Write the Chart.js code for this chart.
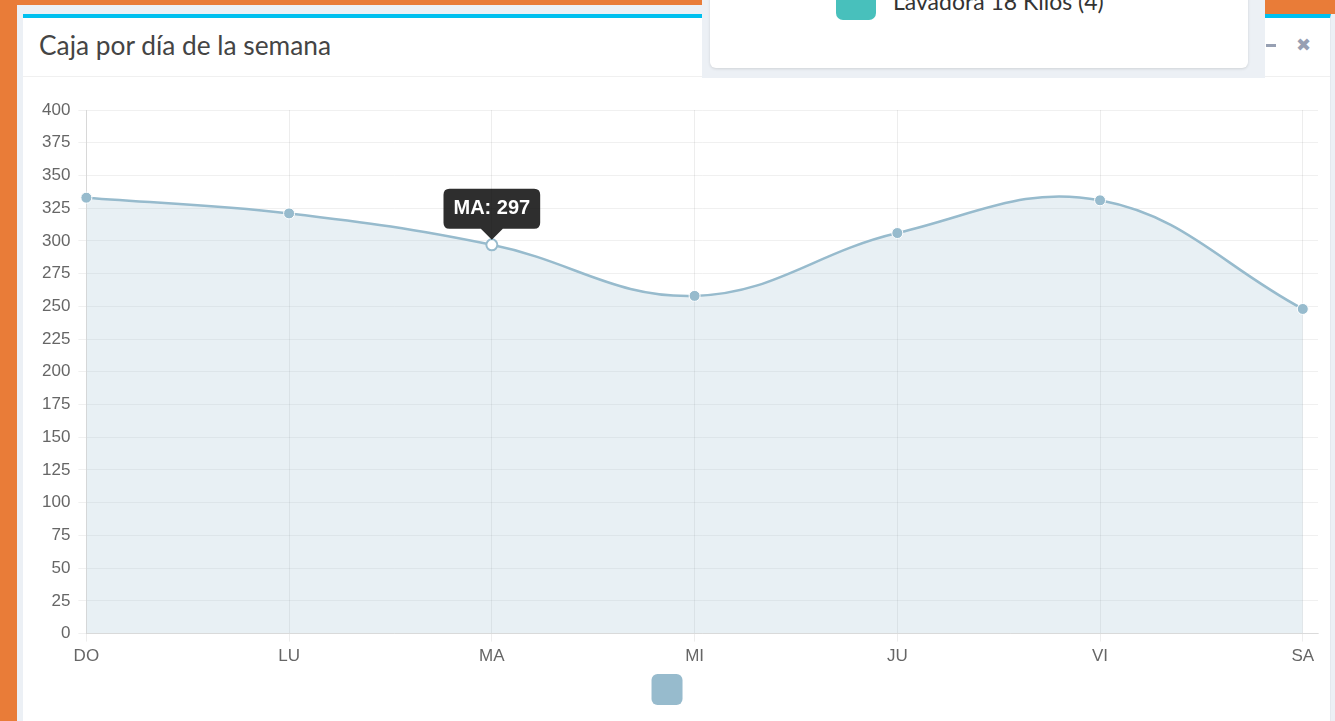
<!DOCTYPE html>
<html>
<head>
<meta charset="utf-8">
<script src="https://cdn.jsdelivr.net/npm/chart.js@4/dist/chart.umd.min.js"></script>
<style>
  html, body { margin: 0; padding: 0; width: 1335px; height: 721px; overflow: hidden; background: #e97c38; font-family: Lato, "Open Sans", sans-serif; }
  #wrap { position: absolute; left: 17px; top: 5px; right: 0; bottom: 0; background: #ecf0f5; }
  #topright { position: absolute; left: 1265px; top: 0; width: 70px; height: 14px; background: #e97c38; }
  #box { position: absolute; left: 23px; top: 14px; width: 1308px; height: 720px; background: #fff; border-top: 4px solid #00c0ef; box-sizing: border-box; border-right: 1px solid #e4e8ee; }
  #title { position: absolute; left: 16px; top: 11px; font-size: 26.3px; color: #444; font-family: Lato, sans-serif; }
  #hdrline { position: absolute; left: 0; right: 0; top: 58px; height: 1px; background: #f0f0f0; }
  #tools { position: absolute; top: 18px; left: 1238px; color: #97a0b3; font-family: "DejaVu Sans", sans-serif; font-weight: bold; font-size: 16px; }
  #minus { position: absolute; left: 5px; width: 10px; height: 3px; background: #97a0b3; top: 8px; }
  #times { position: absolute; left: 35px; top: -2px; font-size: 18px; }
  #dd { position: absolute; left: 702px; top: 0; width: 563px; height: 78px; background: #ecf0f5; }
  #card { position: absolute; left: 8px; top: -10px; width: 538px; height: 78px; background: #fff; border-radius: 6px; box-shadow: 0 1px 3px rgba(0,0,0,0.12); }
  #swatch { position: absolute; left: 126px; top: -10px; width: 40px; height: 40px; background: #48c0bc; border-radius: 7px; }
  #ddtext { position: absolute; left: 183px; top: -3px; font-size: 23px; color: #333; font-family: Lato, sans-serif; white-space: nowrap; }
  #chartbox { position: absolute; left: 23px; top: 78px; width: 1308px; height: 637px; }
</style>
</head>
<body>
<div id="wrap"></div>
<div id="topright"></div>
<div id="box">
  <div id="title">Caja por día de la semana</div>
  <div id="hdrline"></div>
  <div id="tools"><div id="minus"></div><div id="times">✖</div></div>
</div>
<div id="chartbox"><canvas id="c"></canvas></div>
<div id="dd"><div id="card"><div id="swatch"></div><div id="ddtext">Lavadora 18 Kilos (4)</div></div></div>
<script>
const days = ['DO', 'LU', 'MA', 'MI', 'JU', 'VI', 'SA'];
const caja = [333, 321, 297, 258, 306, 331, 248];
const yTicksMax = 400;
const yStep = 25;
const activeIndex = 2;

const lineColor = '#97bbcd';
const tickFont = { family: '"Liberation Sans", Arial, Helvetica, sans-serif', size: 17 };

const chart = new Chart(document.getElementById('c'), {
  type: 'line',
  data: {
    datasets: [{
      label: '',
      data: caja.map((v, i) => ({ x: i, y: v })),
      borderColor: lineColor,
      backgroundColor: 'rgba(151,187,205,0.22)',
      borderWidth: 2.5,
      fill: true,
      tension: 0.4,
      clip: false,
      pointRadius: 5.5,
      pointBackgroundColor: lineColor,
      pointBorderColor: '#fff',
      pointBorderWidth: 1,
      pointHoverRadius: 5.5,
      pointHoverBackgroundColor: '#fff',
      pointHoverBorderColor: lineColor,
      pointHoverBorderWidth: 2
    }]
  },
  options: {
    responsive: true,
    maintainAspectRatio: false,
    animation: false,
    layout: { padding: { left: 11, right: 13, top: 32, bottom: 0 } },
    scales: {
      x: {
        type: 'linear',
        min: 0,
        max: 6.075,
        afterBuildTicks: (axis) => { axis.ticks = days.map((d, i) => ({ value: i })); },
        ticks: { stepSize: 1, color: '#666', font: tickFont, padding: 5, maxRotation: 0, autoSkip: false, callback: (v) => days[v] },
        grid: { color: 'rgba(0,0,0,0.07)', tickLength: 8 },
        border: { color: 'rgba(0,0,0,0.09)' }
      },
      y: {
        min: 0,
        max: yTicksMax,
        ticks: { stepSize: yStep, color: '#666', font: tickFont, padding: 8 },
        grid: { color: 'rgba(0,0,0,0.06)', tickLength: 8 },
        border: { color: 'rgba(0,0,0,0.09)' }
      }
    },
    plugins: {
      legend: {
        position: 'bottom',
        labels: {
          boxWidth: 31,
          boxHeight: 31,
          padding: 2,
          useBorderRadius: true,
          borderRadius: 6,
          font: tickFont,
          generateLabels: () => [{ text: '  ', fillStyle: lineColor, strokeStyle: lineColor, lineWidth: 0, datasetIndex: 0, borderRadius: 6 }]
        }
      },
      tooltip: {
        enabled: true,
        backgroundColor: 'rgba(0,0,0,0.82)',
        displayColors: false,
        padding: { x: 10, y: 8 },
        caretSize: 11,
        caretPadding: 5,
        cornerRadius: 6,
        yAlign: 'bottom',
        xAlign: 'center',
        bodyFont: { family: '"Liberation Sans", Arial, sans-serif', size: 20, weight: 'bold' },
        callbacks: {
          title: () => '',
          label: (ctx) => days[ctx.parsed.x] + ': ' + ctx.parsed.y
        }
      }
    }
  }
});

chart.setActiveElements([{ datasetIndex: 0, index: activeIndex }]);
chart.tooltip.setActiveElements([{ datasetIndex: 0, index: activeIndex }], { x: 0, y: 0 });
chart.update();
</script>
</body>
</html>
